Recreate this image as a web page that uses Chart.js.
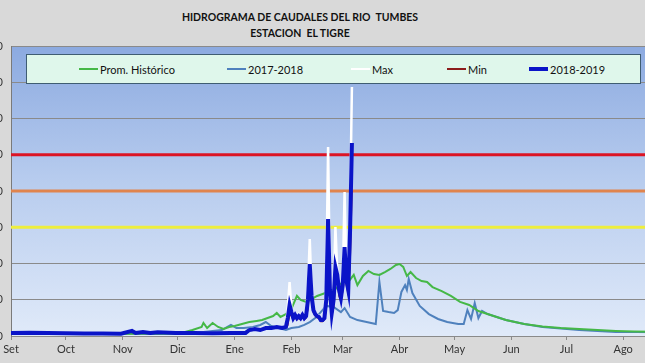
<!DOCTYPE html>
<html>
<head>
<meta charset="utf-8">
<script src="https://cdn.jsdelivr.net/npm/chart.js@4"></script>
<style>
  html, body { margin: 0; padding: 0; }
  body { width: 645px; height: 363px; overflow: hidden; position: relative; background: #d9d9d9; font-family: Lato, "Liberation Sans", sans-serif; }
  #title { position: absolute; left: 0; width: 600px; top: 9px; text-align: center; font-weight: bold; font-size: 10.5px; line-height: 16px; color: #111; }
  #wrap { position: absolute; left: -29px; top: 0; width: 720px; height: 363px; }
  #legend { position: absolute; left: 26px; top: 54px; width: 613px; height: 28px; background: #dff7eb; border: 1px solid #3f5d72; }
  .item { position: absolute; top: 0; height: 28px; display: flex; align-items: center; font-size: 11px; color: #111; white-space: nowrap; }
  .swatch { display: inline-block; width: 19px; margin-right: 2px; }
</style>
</head>
<body>
<div id="title">HIDROGRAMA DE CAUDALES DEL RIO&nbsp; TUMBES<br>ESTACION&nbsp; EL TIGRE</div>
<div id="wrap"><canvas id="chart" width="720" height="363"></canvas></div>
<div id="legend"></div>
<script>
// day 0 = 1 Set 2018, day 365 = 1 Set 2019 ; caudal en m3/s
const monthDays = [0, 30, 61, 91, 122, 153, 181, 212, 242, 273, 303, 334];
const monthLabels = ["Set", "Oct", "Nov", "Dic", "Ene", "Feb", "Mar", "Abr", "May", "Jun", "Jul", "Ago"];

const promDays = [0,30,60,90,95,99,104,105,107,110,113,116,119,122,126,130,134,137,140,143,145,147,150,153,156,158,161,164,167,170,173,177,181,184,187,189,192,195,198,201,204,207,210,212,214,216,218,221,224,227,230,235,240,245,250,255,260,265,270,280,290,300,310,320,330,340,350,365];
const promVals = [11,11,12,13,22,33,50,72,44,72,50,39,50,55,66,77,83,88,99,110,127,105,121,149,221,199,188,204,221,232,243,259,298,298,337,281,331,359,342,337,353,370,392,397,381,331,353,320,303,298,270,248,221,188,171,138,121,105,88,66,52,44,39,33,28,25,23,21];

const prevDays = [0,30,60,90,100,105,110,115,120,123,127,132,136,139,142,146,150,153,157,160,163,166,169,172,176,180,182,185,189,194,199,201,203,206,209,211,213,215,216,217,219,223,228,233,238,244,247,249,251,253,255,257,260,265,270,280,290,300,310,320,330,340,365];
const prevVals = [13,12,12,14,14,22,28,33,61,44,44,50,61,77,55,44,33,44,50,61,77,99,132,166,160,132,154,105,88,77,66,298,138,132,127,143,243,281,254,314,237,166,121,94,77,66,66,143,94,182,99,138,121,105,88,66,50,41,33,28,22,22,20];

const currDays = [0,10,20,30,40,50,60,66,68,72,76,80,90,100,110,120,128,130,133,136,139,142,145,148,150,151,152,153,154,155,156,157,158,159,160,161,162,163,164,165,166,167,168,169,170,171,172,173,174,175,176,177,178,179,180,181,182,183,184,185,186];
const currVals = [17,18,16,15,14,14,13,28,17,22,17,20,16,16,15,16,17,33,39,33,44,44,50,44,50,99,171,132,99,116,99,110,99,116,99,110,199,397,221,143,121,110,105,88,88,99,199,645,254,127,199,380,337,254,210,281,491,309,254,585,1065];
const maxVals = [19,20,18,17,16,16,15,31,19,24,19,22,18,18,17,18,19,36,42,36,47,47,54,47,54,160,298,150,110,125,108,120,108,125,108,120,260,535,240,155,130,118,112,95,95,110,280,1043,300,140,230,601,360,270,225,300,794,330,270,700,1374];
const minVals = [15,16,14,13,12,12,11,25,15,20,15,18,14,14,13,14,15,30,36,30,41,41,46,41,46,60,120,110,90,105,90,100,90,105,90,100,150,300,190,130,112,102,98,80,80,90,150,400,200,110,160,300,300,220,190,250,350,280,230,400,800];

const thresholdDays = [0, 365];
const thresholdRed = [1000, 1000];
const thresholdOrange = [800, 800];
const thresholdYellow = [600, 600];

const legendOrder = ["Prom. Histórico", "2017-2018", "Max", "Min", "2018-2019"];

const pts = (days, vals) => days.map((d, i) => ({ x: d, y: vals[i] }));

function series(label, days, vals, color, width, order) {
  return { label, data: pts(days, vals), borderColor: color, backgroundColor: color,
           borderWidth: width, pointRadius: 0, tension: 0, order };
}

const plotBackground = {
  id: "plotBackground",
  beforeDraw(chart) {
    const { ctx, chartArea: a } = chart;
    const g = ctx.createLinearGradient(0, a.top, 0, a.bottom);
    g.addColorStop(0, "#8caae0");
    g.addColorStop(0.45, "#b6cbee");
    g.addColorStop(1, "#e0eaf9");
    ctx.save();
    ctx.fillStyle = g;
    ctx.fillRect(a.left, a.top, a.right - a.left, a.bottom - a.top);
    ctx.restore();
  },
};

const chart = new Chart(document.getElementById("chart"), {
  type: "line",
  data: {
    datasets: [
      series("Prom. Histórico", promDays, promVals, "#45b847", 2, 5),
      series("2017-2018", prevDays, prevVals, "#4f81bd", 2, 6),
      series("Max", currDays, maxVals, "#ffffff", 2.5, 3),
      series("Min", currDays, minVals, "#8c1c1c", 1.5, 2),
      series("2018-2019", currDays, currVals, "#0a14c8", 4, 1),
      series("rojo", thresholdDays, thresholdRed, "#dc1424", 3, 10),
      series("naranja", thresholdDays, thresholdOrange, "#e0844e", 3, 10),
      series("amarillo", thresholdDays, thresholdYellow, "#eeee3c", 3, 10),
    ],
  },
  options: {
    responsive: false,
    animation: false,
    devicePixelRatio: 1,
    layout: { padding: { top: 46, right: 11, left: 0, bottom: 0 } },
    plugins: { legend: { display: false }, tooltip: { enabled: false } },
    scales: {
      x: {
        type: "linear", min: 0, max: 365,
        afterBuildTicks: (axis) => { axis.ticks = monthDays.map(v => ({ value: v })); },
        afterFit: (axis) => { axis.height = 27; },
        ticks: { autoSkip: false, maxRotation: 0, padding: 3, color: "#333",
                 font: { family: "Lato", size: 11 },
                 callback: (v, i) => monthLabels[i] },
        grid: { drawOnChartArea: false, drawTicks: true, tickLength: 4, color: "#8a8a8a" },
        border: { color: "#8a8a8a" },
      },
      y: {
        min: 0, max: 1600,
        afterFit: (axis) => { axis.width = 40; },
        ticks: { stepSize: 200, padding: 8, color: "#333", font: { family: "Lato", size: 11 } },
        grid: { color: "#8a8a8a", drawTicks: false },
        border: { color: "#7a7a7a" },
      },
    },
  },
  plugins: [plotBackground],
});

const legendEl = document.getElementById("legend");
const legendLeft = [52, 200, 324, 420, 502];
legendOrder.forEach((name, i) => {
  const ds = chart.data.datasets.find(d => d.label === name);
  const item = document.createElement("div");
  item.className = "item";
  item.style.left = legendLeft[i] + "px";
  const sw = document.createElement("span");
  sw.className = "swatch";
  sw.style.height = ds.borderWidth + "px";
  sw.style.background = ds.borderColor;
  const txt = document.createElement("span");
  txt.textContent = name;
  item.appendChild(sw);
  item.appendChild(txt);
  legendEl.appendChild(item);
});
</script>
</body>
</html>
